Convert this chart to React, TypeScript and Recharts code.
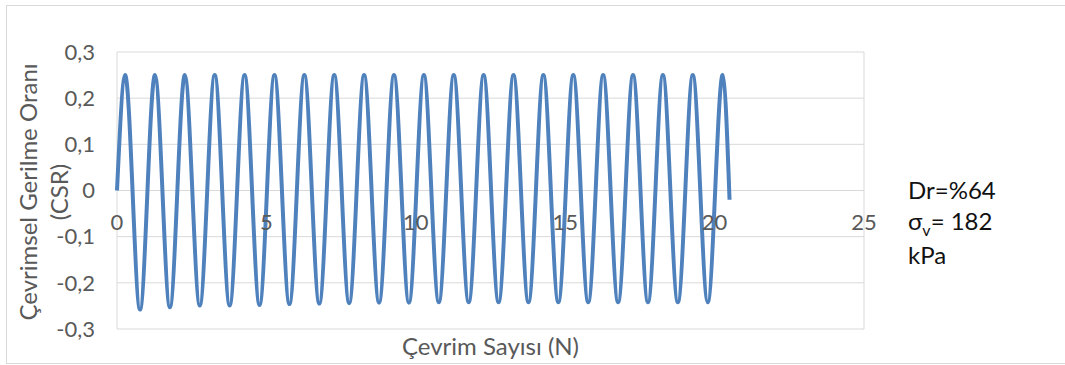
import { LineChart, CartesianGrid, XAxis, YAxis, Line, ReferenceDot } from 'recharts'

// CSR peak / trough values, one per loading cycle
const PEAK_CSR = [
  0.250, 0.250, 0.250, 0.250, 0.250, 0.250, 0.250, 0.250, 0.250, 0.250, 0.250,
  0.250, 0.250, 0.250, 0.250, 0.250, 0.250, 0.250, 0.250, 0.250, 0.250,
]
const TROUGH_CSR = [
  -0.258, -0.253, -0.249, -0.249, -0.248, -0.246, -0.245, -0.244, -0.243, -0.243,
  -0.242, -0.242, -0.242, -0.242, -0.242, -0.242, -0.242, -0.242, -0.242, -0.242,
]
// where inside each cycle the curve crosses up, peaks, crosses down, bottoms out
const PHASE_UP = 0.02
const PHASE_PEAK = 0.27
const PHASE_DOWN = 0.52
const PHASE_TROUGH = 0.77
// last recorded point
const END_N = 20.5
const END_CSR = -0.02

const X_TICKS = [0, 5, 10, 15, 20, 25]
const Y_TICKS = [-0.3, -0.2, -0.1, 0, 0.1, 0.2, 0.3]

const Y_TITLE = ['Çevrimsel Gerilme Oranı', '(CSR)']
const X_TITLE = 'Çevrim Sayısı (N)'

const FONT = 'Lato, "Open Sans", sans-serif'
const AXIS_TXT = '#595959'
const GRID = '#d9d9d9'

interface Row {
  n: number
  csr: number
}

const data: Row[] = [{ n: 0, csr: 0 }]
PEAK_CSR.forEach((peak, i) => {
  if (i > 0) data.push({ n: i + PHASE_UP, csr: 0 })
  data.push({ n: i + PHASE_PEAK, csr: peak })
  if (i < TROUGH_CSR.length) {
    data.push({ n: i + PHASE_DOWN, csr: 0 })
    data.push({ n: i + PHASE_TROUGH, csr: TROUGH_CSR[i] })
  }
})
data.push({ n: END_N, csr: END_CSR })

const fmtComma = (v: number) => (v === 0 ? '0' : v.toFixed(1).replace('.', ','))

function YTitle(props: any) {
  const vb = props.viewBox || { x: 0, y: 0, width: 0, height: 0 }
  const cx = vb.x + 37
  const cy = vb.y + vb.height / 2 + 1.5
  return (
    <text
      transform={`translate(${cx},${cy}) rotate(-90)`}
      textAnchor="middle"
      fill={AXIS_TXT}
      fontSize={24}
      fontFamily={FONT}
    >
      <tspan x={0} dy={0}>{Y_TITLE[0]}</tspan>
      <tspan x={0} dy={31}>{Y_TITLE[1]}</tspan>
    </text>
  )
}

export default function App() {
  return (
    <div style={{ position: 'absolute', left: 0, top: 0, width: 1065, height: 365, background: '#fff', overflow: 'hidden' }}>
      <div
        style={{
          position: 'absolute',
          left: 6,
          top: 5,
          width: 1070,
          height: 357,
          border: `1px solid ${GRID}`,
        }}
      />
      <LineChart
        width={1065}
        height={365}
        data={data}
        margin={{ top: 52, right: 201, bottom: 0, left: 0 }}
        style={{ position: 'absolute', left: 0, top: 0 }}
      >
        <CartesianGrid stroke={GRID} strokeWidth={1} />
        <XAxis
          dataKey="n"
          type="number"
          domain={[0, 25]}
          ticks={X_TICKS}
          height={36}
          axisLine={false}
          tickLine={false}
          tick={false}
          label={{
            value: X_TITLE,
            position: 'insideBottom',
            offset: 10,
            fill: AXIS_TXT,
            fontSize: 24,
            fontFamily: FONT,
          }}
        />
        <YAxis
          type="number"
          domain={[-0.3, 0.3]}
          ticks={Y_TICKS}
          width={117}
          axisLine={false}
          tickLine={false}
          tickSize={0}
          tickMargin={22}
          tickFormatter={fmtComma}
          tick={{ fill: AXIS_TXT, fontSize: 22, fontFamily: FONT }}
          label={<YTitle />}
        />
        <Line
          type="natural"
          dataKey="csr"
          stroke="#4f81bd"
          strokeWidth={4}
          dot={false}
          activeDot={false}
          isAnimationActive={false}
        />
        {X_TICKS.map(t => (
          <ReferenceDot
            key={t}
            x={t}
            y={0}
            r={0}
            fill="none"
            stroke="none"
            label={{
              value: String(t),
              position: 'bottom',
              offset: 24,
              fill: AXIS_TXT,
              fontSize: 22,
              fontFamily: FONT,
            }}
          />
        ))}
      </LineChart>
      <div
        style={{
          position: 'absolute',
          left: 908,
          top: 174,
          fontFamily: FONT,
          fontSize: 24,
          lineHeight: '31px',
          color: '#111',
          whiteSpace: 'nowrap',
        }}
      >
        <div>Dr=%64</div>
        <div>
          σ<span style={{ fontSize: 16, position: 'relative', top: 6 }}>v</span>= 182
        </div>
        <div>kPa</div>
      </div>
    </div>
  )
}
